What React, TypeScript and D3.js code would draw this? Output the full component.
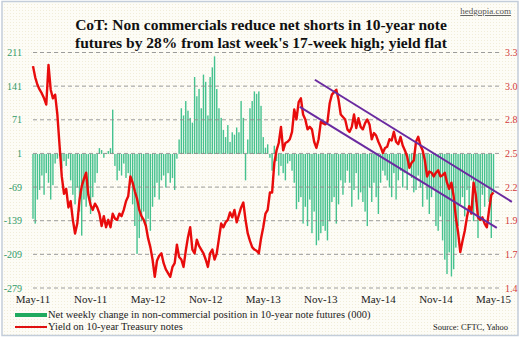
import React from "react";
import * as d3 from "d3";

const xTickLabels = ["May-11", "Nov-11", "May-12", "Nov-12", "May-13", "Nov-13", "May-14", "Nov-14", "May-15"];
const xTickIndex = [0, 26, 52, 78, 104, 130, 156, 182, 208];
const leftTicks = [211, 141, 71, 1, -69, -139, -209, -279];
const rightTickLabels = ["3.3", "3.0", "2.8", "2.5", "2.2", "1.9", "1.7", "1.4"];

// Net weekly change in non-commercial position (000), weekly
const netChange = [
  -135, -145, -95, -75, -45, -85, -40, -60, -95, -65,
  -20, -10, -5, -30, -15, -25, -10,
  -55, -85, -105, -70, -120, -170, -95, -110, -80, -125, -90, -60, -40,
  12, 8, -8, 2, 6, 12, 92,
  -25, -55, -35, -45, -20, -50,
  -40, -65, -105, -150, -208, -175, -140, -120,
  -150, -135, -160, -110, -90, -60, -95, -55, -45, -70, -40, -60, -50, -75, -10,
  30, 95, 80, 110,
  90, 75, 65, 160, 120, 135, 95, 165, 150, 80, 160, 180, 203, 135, 95,
  75, 50, 35, 60, 25, 45, 40, 55, 45, 110, 75,
  -55,
  30, 95, 110, 130, 125, 130, 100,
  35, 13, 20, -8, -35, 17, -15, -45,
  -25, -40, -55, -20, -15, -35,
  -60, -115, -100, -90, -145, -110, -150, -95, -165, -120,
  -190, -180, -165, -150, -160, -180, -140, -100,
  -90, -145, -105, -55, -85, -60,
  -35, -60, -110, -75, -40, -95,
  -80, -100, -120, -150, -70, -100, -60,
  -90, -125, -60, -35, -45, -55, -70, -90, -40,
  -95, -55, -35, -70, -40, -75, -25, -50, -80,
  -75, -45, -70, -110, -60, -95,
  -125, -90, -70, -150, -160, -130, -180,
  -220, -250, -205, -255, -240, -195, -150,
  -105, -90, -130, -75, -120, -55, -140, -100,
  -175, -140, -85, -110, -70, -100, -175, -80,
];

// Yield on 10-year Treasury notes, weekly
const yieldValues = [
  3.19, 3.10, 3.04, 3.00, 2.97, 2.93, 2.88, 3.20, 3.00, 2.93,
  2.96, 2.80, 2.55, 2.30, 2.16, 2.20, 2.05, 2.10, 1.95, 1.84,
  1.92, 2.11, 2.22, 2.28, 2.33, 2.15, 2.07, 2.03, 2.08, 2.05,
  2.00, 1.90, 1.98, 1.89, 1.95, 1.89, 2.00, 1.96, 1.95, 2.00,
  1.98, 2.03, 2.10, 2.14, 2.30, 2.25, 2.18, 2.12, 2.03, 1.98,
  1.95, 1.90, 1.80, 1.73, 1.63, 1.49, 1.62, 1.66, 1.68, 1.60,
  1.55, 1.52, 1.49, 1.57, 1.60, 1.75, 1.65, 1.63, 1.57, 1.70,
  1.81, 1.89, 1.71, 1.68, 1.79, 1.74, 1.71, 1.68, 1.63, 1.57,
  1.68, 1.71, 1.63, 1.68, 1.80, 1.92, 1.89, 1.93, 1.95, 2.01,
  1.97, 2.03, 1.93, 1.99, 2.05, 2.09, 1.95, 1.84, 1.78, 1.73,
  1.71, 1.70, 1.68, 1.80, 1.89, 2.00, 2.03, 2.17, 2.17, 2.41,
  2.51, 2.57, 2.70, 2.51, 2.57, 2.58, 2.60, 2.66, 2.84, 2.76,
  2.90, 2.93, 2.80, 2.76, 2.68, 2.70, 2.68, 2.58, 2.53, 2.60,
  2.74, 2.73, 2.72, 2.74, 2.89, 2.96, 2.98, 3.00, 2.92, 2.80,
  2.78, 2.76, 2.68, 2.66, 2.70, 2.80, 2.69, 2.77, 2.70, 2.68,
  2.73, 2.76, 2.72, 2.60, 2.65, 2.63, 2.58, 2.54, 2.49, 2.53,
  2.54, 2.60, 2.59, 2.66, 2.58, 2.56, 2.62, 2.55, 2.51, 2.46,
  2.37, 2.41, 2.43, 2.58, 2.62, 2.55, 2.51, 2.43, 2.30, 2.34,
  2.33, 2.30, 2.33, 2.35, 2.30, 2.31, 2.33, 2.25, 2.20, 2.25,
  2.14, 1.97, 1.85, 1.69, 1.78, 1.86, 1.97, 2.06, 2.00, 2.25,
  2.15, 1.97, 1.95, 1.97, 1.92, 1.89, 2.03, 2.15, 2.17,
];

// Channel trend lines: [startIndex, startYield, endIndex, endYield]
const upperChannel = [127.3, 3.08, 216.3, 2.095];
const lowerChannel = [120.5, 2.862, 209.5, 1.885];

const W = 525;
const H = 338;

export default function App() {
  const n = netChange.length;
  const x = d3.scaleLinear().domain([0, n - 1]).range([33, 493.5]);
  const yL = d3.scaleLinear().domain([-279, 211]).range([288, 52.5]);
  const yR = d3.scaleLinear().domain([1.4, 3.3]).range([288, 52.5]);
  const line = d3
    .line<number>()
    .x((_, i) => x(i))
    .y((d) => yR(d));
  const bw = 1.4;
  const serif = "'Liberation Serif', 'DejaVu Serif', serif";

  return (
    <div>
      <style>{`body{margin:0;}`}</style>
      <svg width={W} height={H} style={{ display: "block" }}>
        <defs>
          <pattern id="dots" width="3" height="3" patternUnits="userSpaceOnUse">
            <rect width="3" height="3" fill="#fdfcf6" />
            <rect x="1" y="1" width="1" height="1" fill="#f1edd9" />
          </pattern>
        </defs>
        <rect x={0} y={0} width={W} height={H} fill="#ffffff" />
        <rect x={2} y={1.5} width={516} height={334} fill="url(#dots)" stroke="#c3cdda" strokeWidth={1.5} />

        {/* title */}
        <text x={511} y={14} textAnchor="end" fontFamily={serif} fontSize={9} fill="#555" textDecoration="underline">
          hedgopia.com
        </text>
        <text x={261} y={30} textAnchor="middle" fontFamily={serif} fontSize={15.5} fontWeight="bold" fill="#111">
          CoT: Non commercials reduce net shorts in 10-year note
        </text>
        <text x={261} y={48} textAnchor="middle" fontFamily={serif} fontSize={15.5} fontWeight="bold" fill="#111">
          futures by 28% from last week's 17-week high; yield flat
        </text>

        {/* bars */}
        {netChange.map((v, i) => (
          <rect
            key={i}
            x={x(i) - bw / 2}
            y={Math.min(yL(0), yL(v))}
            width={bw}
            height={Math.abs(yL(v) - yL(0))}
            fill="#45c28f"
          />
        ))}

        {/* gridlines */}
        {leftTicks.map((t) => (
          <line
            key={t}
            x1={33}
            x2={500}
            y1={yL(t)}
            y2={yL(t)}
            stroke="#8c8c8c"
            strokeWidth={1}
            strokeDasharray="4,3"
            opacity={0.85}
          />
        ))}

        {/* yield line */}
        <path d={line(yieldValues) || ""} fill="none" stroke="#e80c0c" strokeWidth={2.4} strokeLinejoin="round" />

        {/* channel lines */}
        {[upperChannel, lowerChannel].map((c, k) => (
          <line
            key={k}
            x1={x(c[0])}
            y1={yR(c[1])}
            x2={x(c[2])}
            y2={yR(c[3])}
            stroke="#6a2aa0"
            strokeWidth={2}
          />
        ))}

        {/* left axis labels */}
        {leftTicks.map((t) => (
          <text key={t} x={22} y={yL(t) + 3.5} textAnchor="end" fontFamily={serif} fontSize={10} fill="#2f9a68">
            {t}
          </text>
        ))}
        {/* right axis labels */}
        {rightTickLabels.map((l, k) => (
          <text key={l} x={505} y={yL(leftTicks[k]) + 3.5} fontFamily={serif} fontSize={10} fill="#d23a3a">
            {l}
          </text>
        ))}
        {/* x labels */}
        {xTickIndex.map((idx, k) => (
          <text key={idx} x={x(idx)} y={303} textAnchor="middle" fontFamily={serif} fontSize={11} fill="#222">
            {xTickLabels[k]}
          </text>
        ))}

        {/* legend */}
        <line x1={15} x2={47} y1={315} y2={315} stroke="#1faa5e" strokeWidth={4} />
        <text x={48} y={318} fontFamily={serif} fontSize={10.5} fill="#222">
          Net weekly change in non-commercial position in 10-year note futures (000)
        </text>
        <line x1={15} x2={47} y1={327} y2={327} stroke="#e01010" strokeWidth={2} />
        <text x={48} y={330} fontFamily={serif} fontSize={10.5} fill="#222">
          Yield on 10-year Treasury notes
        </text>
        <text x={508} y={330} textAnchor="end" fontFamily={serif} fontSize={8.5} fill="#222">
          Source: CFTC, Yahoo
        </text>
      </svg>
    </div>
  );
}
